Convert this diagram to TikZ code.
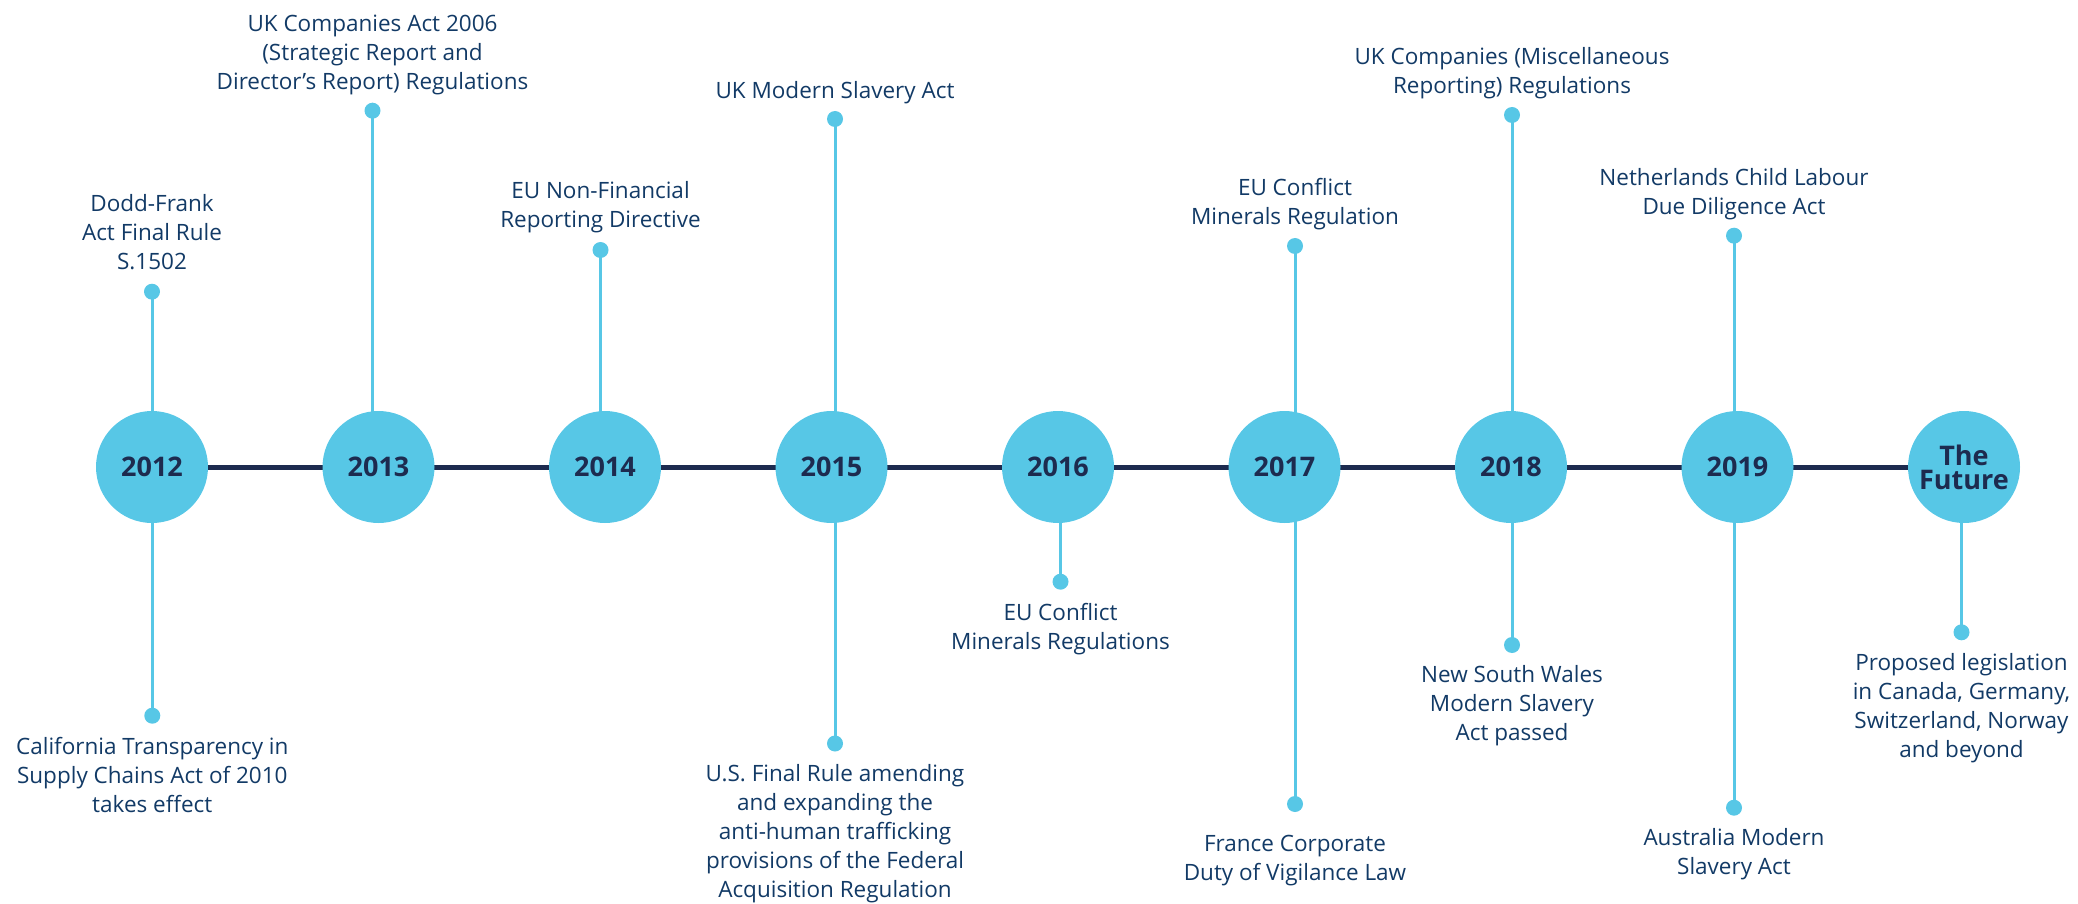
\documentclass[tikz,border=0pt]{standalone}
\usepackage{fontspec}
\setmainfont{Open Sans}
\usetikzlibrary{backgrounds}
\definecolor{sky}{HTML}{57C7E6}
\definecolor{navy}{HTML}{1D2B4F}
\definecolor{ink}{HTML}{123A66}
\newcommand{\stack}[1]{\begin{tabular}[t]{@{}c@{}}#1\end{tabular}}
\begin{document}
\begin{tikzpicture}[x=1pt,y=-1pt,
  yearnode/.style={circle, fill=sky, minimum size=112pt, inner sep=0pt, text=navy,
    font=\fontsize{27}{24}\selectfont\bfseries, align=center},
  dotnode/.style={circle, fill=sky, minimum size=16pt, inner sep=0pt},
  stemline/.style={draw=sky, line width=3pt},
  axisline/.style={draw=navy, line width=5pt},
  lbl/.style={anchor=base, inner sep=0pt, text=ink, font=\fontsize{22.5}{29}\selectfont}]
\useasboundingbox (0,0) rectangle (2078,904);

% year circles
\node[yearnode] (y2012) at (152,467) {2012};
\node[yearnode] (y2013) at (378.5,467) {2013};
\node[yearnode] (y2014) at (605,467) {2014};
\node[yearnode] (y2015) at (831.5,467) {2015};
\node[yearnode] (y2016) at (1058,467) {2016};
\node[yearnode] (y2017) at (1284.5,467) {2017};
\node[yearnode] (y2018) at (1511,467) {2018};
\node[yearnode] (y2019) at (1737.5,467) {2019};
\node[yearnode] (yfut) at (1964,467) {The\\Future};

% dots above
\node[dotnode] (t2012) at (152,291.7) {};
\node[dotnode] (t2013) at (372.5,110.7) {};
\node[dotnode] (t2014) at (600.5,250) {};
\node[dotnode] (t2015) at (835,119) {};
\node[dotnode] (t2017) at (1295,246) {};
\node[dotnode] (t2018) at (1512,115) {};
\node[dotnode] (t2019) at (1734,235.7) {};
% dots below
\node[dotnode] (b2012) at (152.3,715.7) {};
\node[dotnode] (b2015) at (835,743.5) {};
\node[dotnode] (b2016) at (1060.5,581.7) {};
\node[dotnode] (b2017) at (1295,804) {};
\node[dotnode] (b2018) at (1512,645) {};
\node[dotnode] (b2019) at (1734,807.7) {};
\node[dotnode] (bfut) at (1961.5,632.3) {};

% labels above
\node[lbl] (l2012a) at (152,211.7) {\stack{Dodd-Frank\\Act Final Rule\\S.1502}};
\node[lbl] (l2013a) at (372.5,31.7) {\stack{UK Companies Act 2006\\(Strategic Report and\\Director’s Report) Regulations}};
\node[lbl] (l2014a) at (600.5,199) {\stack{EU Non-Financial\\Reporting Directive}};
\node[lbl] (l2015a) at (835,99) {\stack{UK Modern Slavery Act}};
\node[lbl] (l2017a) at (1295,196) {\stack{EU Conflict\\Minerals Regulation}};
\node[lbl] (l2018a) at (1512,65) {\stack{UK Companies (Miscellaneous\\Reporting) Regulations}};
\node[lbl] (l2019a) at (1734,185.7) {\stack{Netherlands Child Labour\\Due Diligence Act}};
% labels below
\node[lbl] (l2012b) at (152.3,754.3) {\stack{California Transparency in\\Supply Chains Act of 2010\\takes effect}};
\node[lbl] (l2015b) at (835,781.7) {\stack{U.S. Final Rule amending\\and expanding the\\anti-human trafficking\\provisions of the Federal\\Acquisition Regulation}};
\node[lbl] (l2016b) at (1060.5,620.7) {\stack{EU Conflict\\Minerals Regulations}};
\node[lbl] (l2017b) at (1295,851.7) {\stack{France Corporate\\Duty of Vigilance Law}};
\node[lbl] (l2018b) at (1512,682.7) {\stack{New South Wales\\Modern Slavery\\Act passed}};
\node[lbl] (l2019b) at (1734,845) {\stack{Australia Modern\\Slavery Act}};
\node[lbl] (lfutb) at (1961.5,670.7) {\stack{Proposed legislation\\in Canada, Germany,\\Switzerland, Norway\\and beyond}};

\begin{pgfonlayer}{background}
  \draw[axisline] (y2012.center) -- (yfut.center);
  \draw[stemline] (t2012.center) -- (t2012.center |- y2012.center);
  \draw[stemline] (t2013.center) -- (t2013.center |- y2013.center);
  \draw[stemline] (t2014.center) -- (t2014.center |- y2014.center);
  \draw[stemline] (t2015.center) -- (t2015.center |- y2015.center);
  \draw[stemline] (t2017.center) -- (t2017.center |- y2017.center);
  \draw[stemline] (t2018.center) -- (t2018.center |- y2018.center);
  \draw[stemline] (t2019.center) -- (t2019.center |- y2019.center);
  \draw[stemline] (b2012.center) -- (b2012.center |- y2012.center);
  \draw[stemline] (b2015.center) -- (b2015.center |- y2015.center);
  \draw[stemline] (b2016.center) -- (b2016.center |- y2016.center);
  \draw[stemline] (b2017.center) -- (b2017.center |- y2017.center);
  \draw[stemline] (b2018.center) -- (b2018.center |- y2018.center);
  \draw[stemline] (b2019.center) -- (b2019.center |- y2019.center);
  \draw[stemline] (bfut.center) -- (bfut.center |- yfut.center);
\end{pgfonlayer}
\end{tikzpicture}
\end{document}
